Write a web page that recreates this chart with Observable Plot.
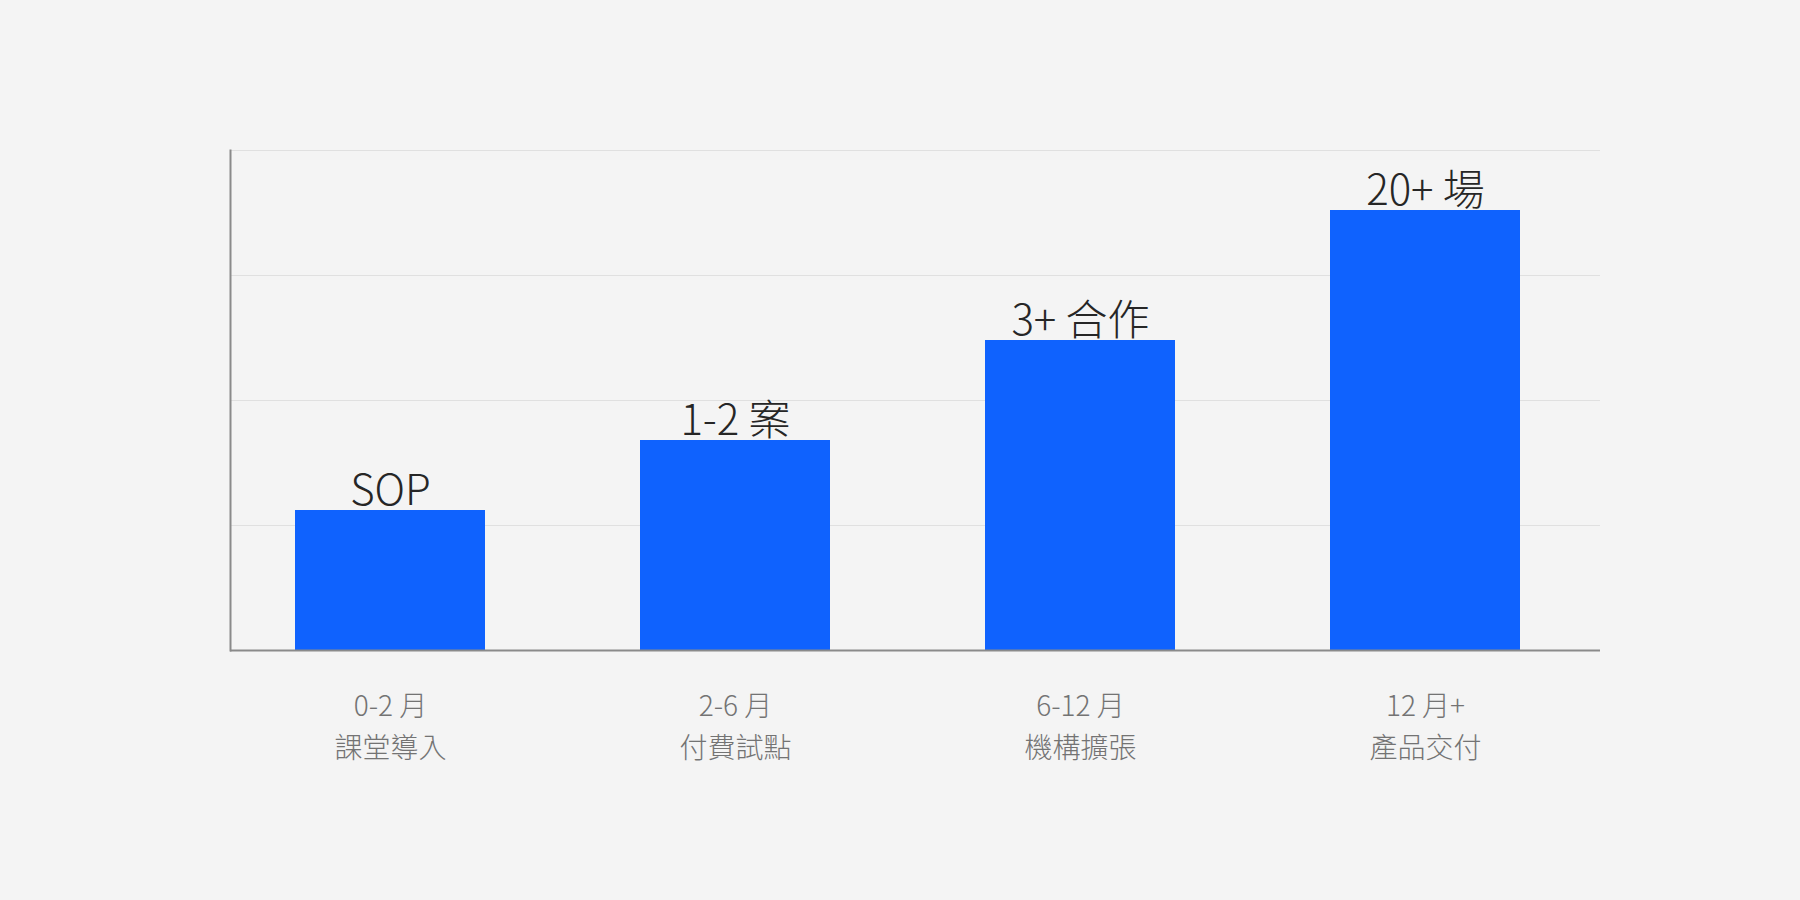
<!DOCTYPE html>
<html>
<head>
<meta charset="utf-8">
<script src="https://cdn.jsdelivr.net/npm/d3@7"></script>
<script src="https://cdn.jsdelivr.net/npm/@observablehq/plot@0.6"></script>
<style>
  html, body { margin: 0; padding: 0; background: #f4f4f4; }
  #chart svg { display: block; }
</style>
</head>
<body>
<div id="chart"></div>
<script>
const periods = ["0-2 月", "2-6 月", "6-12 月", "12 月+"];
const stages = ["課堂導入", "付費試點", "機構擴張", "產品交付"];
const values = [28, 42, 62, 88];
const valueLabels = ["SOP", "1-2 案", "3+ 合作", "20+ 場"];
const gridTicks = [0, 25, 50, 75, 100];

const data = periods.map((p, i) => ({
  key: p,
  tick: p + "\n" + stages[i],
  value: values[i],
  label: valueLabels[i]
}));

const font = "'Noto Sans CJK TC Light', 'Noto Sans CJK TC DemiLight', 'Noto Sans CJK TC', 'Noto Sans', sans-serif";

const chart = Plot.plot({
  width: 1800,
  height: 900,
  marginLeft: 230,
  marginRight: 200,
  marginTop: 150,
  marginBottom: 250,
  style: { background: "#f4f4f4", fontFamily: font },
  x: { type: "band", domain: periods, range: [295, 1520], paddingInner: 0.45, paddingOuter: 0, axis: null },
  y: { domain: [0, 100], axis: null },
  marks: [
    Plot.ruleY(gridTicks.slice(1), { stroke: "#e0e0e0", strokeWidth: 1.2 }),
    Plot.barY(data, { x: "key", y: "value", fill: "#0f62fe" }),
    Plot.ruleY([0], { stroke: "#8a8a8a", strokeWidth: 2 }),
    Plot.frame({ anchor: "left", stroke: "#8a8a8a", strokeWidth: 2 }),
    Plot.text(data, {
      x: "key", y: "value", text: "label",
      lineAnchor: "bottom", dy: -6,
      fontSize: 42, fontWeight: 200, fill: "#262626"
    }),
    Plot.text(data, {
      x: "key", y: 0, text: "tick",
      lineAnchor: "top", dy: 36, lineHeight: 1.5,
      fontSize: 28, fontWeight: 200, fill: "#737373"
    })
  ]
});

document.getElementById("chart").appendChild(chart);
</script>
</body>
</html>
